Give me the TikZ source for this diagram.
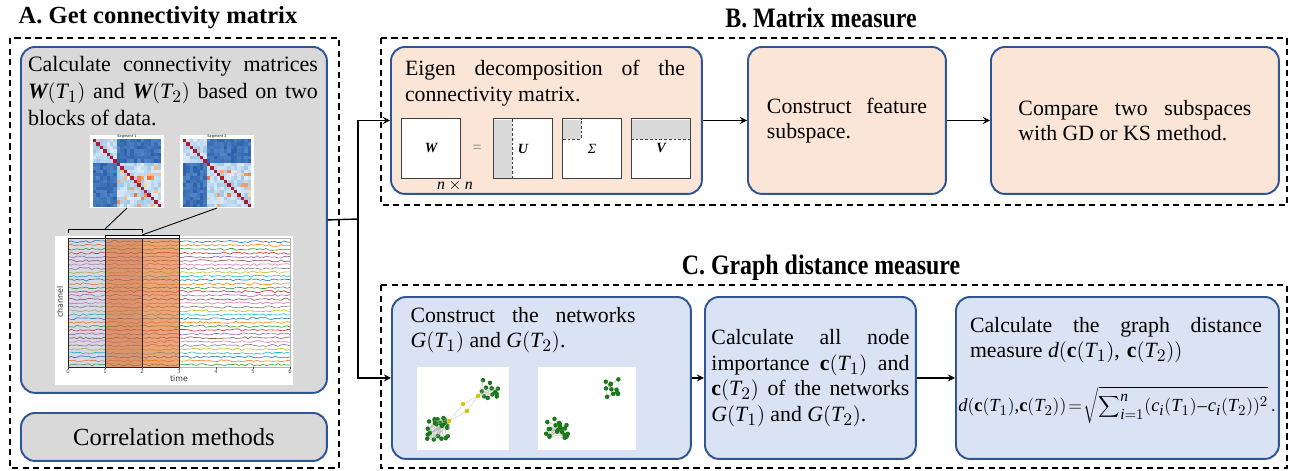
\documentclass[tikz,border=0pt]{standalone}
\usepackage{fontspec}
\setmainfont{Liberation Serif}
\setsansfont{DejaVu Sans}
\usepackage[italic]{mathastext}
\usepackage{bm}
\hyphenpenalty=10000
\exhyphenpenalty=10000

\definecolor{boxblue}{RGB}{47,85,151}
\definecolor{grayfill}{RGB}{217,217,217}
\definecolor{peach}{RGB}{251,229,214}
\definecolor{paleblue}{RGB}{218,227,243}
\definecolor{matgray}{RGB}{217,217,217}
\definecolor{hmred}{RGB}{178,24,43}
\definecolor{hmpale}{RGB}{222,235,247}
\definecolor{hmlight}{RGB}{160,200,230}
\definecolor{hmmid}{RGB}{80,135,200}
\definecolor{hmdark}{RGB}{45,95,170}
\definecolor{hmyellow}{RGB}{254,224,144}
\definecolor{hmorange}{RGB}{244,109,67}
\definecolor{winorange}{RGB}{220,105,35}
\definecolor{netgreen}{RGB}{25,120,25}
\definecolor{netyellow}{RGB}{215,195,0}
\definecolor{tab0}{HTML}{1F77B4}
\definecolor{tab1}{HTML}{FF7F0E}
\definecolor{tab2}{HTML}{2CA02C}
\definecolor{tab3}{HTML}{D62728}
\definecolor{tab4}{HTML}{9467BD}
\definecolor{tab5}{HTML}{8C564B}
\definecolor{tab6}{HTML}{E377C2}
\definecolor{tab7}{HTML}{7F7F7F}
\definecolor{tab8}{HTML}{BCBD22}
\definecolor{tab9}{HTML}{17BECF}

\tikzset{
  frame/.style={draw=black, line width=0.9pt, dash pattern=on 3.5pt off 2.5pt},
  stage/.style={draw=boxblue, line width=1.1pt, rounded corners=8pt, anchor=north west, inner sep=0pt, align=justify},
  blurb/.style={align=justify},
  title/.style={font=\fontsize{14}{16}\selectfont\bfseries},
  link/.style={line width=0.8pt},
  bracket/.style={line width=0.5pt},
  mat/.style={draw=black!75, line width=0.6pt, fill=white, minimum size=1.19cm, inner sep=0pt, font=\fontsize{8}{8}\selectfont},
  matdash/.style={draw=black!75, line width=0.5pt, dash pattern=on 1.5pt off 1.2pt},
  netedge/.style={draw=gray!55, line width=0.15pt},
  axislabel/.style={font=\fontsize{4.5}{5}\sffamily, text=black!80}
}

% correlation heat map: x, y, block cut, panel title
\newcommand{\corrmap}[4]{%
  \begin{scope}[shift={(#1,#2)}]
    \fill[white] (0,0) rectangle (74,73);
    \node[font=\fontsize{2}{2}\sffamily] at (37,2) {#4};
    \foreach \i in {0,...,19}{
      \foreach \j in {0,...,19}{
        \pgfmathtruncatemacro\shade{100*rnd}
        \pgfmathtruncatemacro\same{(\i<#3)==(\j<#3)}
        \pgfmathtruncatemacro\spot{(\i>=#3)&&(\j>=#3)&&(rnd<0.12)}
        \ifnum\i=\j \def\cellcol{hmred}%
        \else\ifnum\spot=1 \def\cellcol{hmyellow!\shade!hmorange}%
        \else\ifnum\same=1 \def\cellcol{hmpale!\shade!hmlight}%
        \else \def\cellcol{hmdark!\shade!hmmid}\fi\fi\fi
        \fill[\cellcol] ({3+\j*3.4},{4+\i*3.4}) rectangle +(3.4,3.4);
      }
    }
  \end{scope}}

% cluster of a network: prefix, x, y, spread, count
\newcommand{\netcluster}[5]{%
  \foreach \k in {1,...,#5}{\coordinate (#1\k) at ({#2+#4*rand},{#3+#4*rand});}
  \foreach \a in {1,...,#5}{
    \foreach \b in {1,...,#5}{
      \pgfmathtruncatemacro\link{(\a<\b)&&(rnd<0.3)}
      \ifnum\link=1 \draw[netedge] (#1\a) -- (#1\b);\fi
    }
  }
  \foreach \k in {1,...,#5}{\fill[netgreen] (#1\k) circle (0.045cm);}}

\begin{document}
\begin{tikzpicture}[x=0.02cm, y=-0.02cm, font=\fontsize{12.4}{14.5}\selectfont]
\pgfmathsetseed{11}
\useasboundingbox (0,0) rectangle (1294,470);

% dashed panels
\draw[frame] (10,38) rectangle (339,468);
\draw[frame] (381,38) rectangle (1287,205);
\draw[frame] (381,285) rectangle (1287,468);

\node[title] (titleA) at (158,18) {A. Get connectivity matrix};
\node[title, font=\fontsize{16}{18}\selectfont\bfseries] (titleB) at (821,18) {\scalebox{0.85}[1]{B. Matrix measure}};
\node[title, font=\fontsize{16}{18}\selectfont\bfseries] (titleC) at (821,268) {\scalebox{0.85}[1]{C. Graph distance measure}};

% panel A
\node[stage, fill=grayfill, minimum width=6.12cm, minimum height=6.92cm] (getW) at (20,46) {};
\node[blurb, text width=5.8cm, font=\fontsize{12.5}{15.2}\selectfont] (getWtext) at (173,91)
  {Calculate connectivity matrices $\bm{W}(T_1)$ and $\bm{W}(T_2)$ based on two blocks of data.};
\node[stage, fill=grayfill, minimum width=6.12cm, minimum height=0.96cm, font=\fontsize{14}{16}\selectfont] (corr) at (20,412) {Correlation methods};

\corrmap{90}{135}{7}{Segment 1}
\corrmap{180}{135}{7}{Segment 2}

% time series
\fill[white] (55,236) rectangle (293,385);
\foreach \n in {0,...,32}{
  \pgfmathtruncatemacro\k{mod(\n,10)}
  \draw[tab\k, line width=0.35pt] plot[domain=68:290, samples=75] (\x,{241.5+3.85*\n+1.1*rand});
}
\fill[gray!80!blue, opacity=0.25] (68,238) rectangle (142,367);
\fill[winorange, opacity=0.6] (105,238) rectangle (179,367);
\draw[gray!60, line width=0.3pt] (68,238) rectangle (290,367);
\draw[black!85, line width=0.5pt] (68,238) rectangle (142,367);
\draw[black!85, line width=0.5pt] (105,238) rectangle (179,367);
\foreach \t in {0,...,6}{
  \draw[black!70, line width=0.2pt] ({68+37*\t},367) -- ({68+37*\t},369);
  \node[font=\fontsize{3}{3}\sffamily, text=black!70] (tick\t) at ({68+37*\t},372) {\t};
}
\node[axislabel] (timelabel) at (179,379) {time};
\node[axislabel, rotate=90] (chlabel) at (60,302) {channel};

% windows and their matrices
\coordinate (win1) at (105,229);
\coordinate (win2) at (142,235);
\draw[bracket] (68,233) -- (68,229) -- (142,229) -- (142,233);
\draw[bracket] (105,238) -- (105,235) -- (179,235) -- (179,238);
\coordinate (hm1) at (127,208);
\coordinate (hm2) at (217,208);
\draw[bracket] (hm1) -- (win1);
\draw[bracket] (hm2) -- (win2);

% panel B
\node[stage, fill=peach, minimum width=6.22cm, minimum height=2.94cm] (eig) at (390,46) {};
\node[blurb, text width=5.6cm] (eigtext) at (545,83) {Eigen decomposition of the connectivity matrix.};
\node[mat] (matW) at (431,148.5) {$\bm{W}$};
\node[text=gray, font=\fontsize{9}{9}\selectfont] (eq) at (477,148.5) {=};
\node[mat] (matU) at (523,148.5) {$\bm{U}$};
\node[mat] (matS) at (592,148.5) {\textit{Σ}};
\node[mat] (matV) at (661,148.5) {$\bm{V}$};
\fill[matgray] (494,120) rectangle (512,177.5);
\draw[matdash] (512,119) -- (512,178);
\fill[matgray] (563,120) rectangle (581,139);
\draw[matdash] (563,139) -| (581,119);
\fill[matgray] (632,120) rectangle (690,139);
\draw[matdash] (631,139) -- (691,139);
\node[font=\fontsize{9}{9}\selectfont] (dims) at (455,186) {$n\times n$};

\node[stage, fill=peach, minimum width=3.96cm, minimum height=2.94cm, text width=3.2cm] (feature) at (747,46) {Construct feature subspace.};
\node[stage, fill=peach, minimum width=5.76cm, minimum height=2.94cm, text width=4.66cm] (compare) at (990,46) {Compare two subspaces with GD or KS method.};

% panel C
\node[stage, fill=paleblue, minimum width=5.98cm, minimum height=3.24cm] (network) at (391,296) {};
\node[blurb, text width=4.5cm] (networktext) at (523,330) {Construct the networks $G(T_1)$ and $G(T_2)$.};
\fill[white] (417,367) rectangle (509,450);
\fill[white] (538,367) rectangle (636,450);
\coordinate (y1) at (478,396);
\coordinate (y2) at (463,404);
\coordinate (y3) at (467,411);
\coordinate (y4) at (449,421);
\netcluster{p}{437}{429}{11}{24}
\netcluster{q}{490}{389}{9}{12}
\foreach \k in {1,...,6}{
  \draw[netedge] (y1) -- (q\k);
  \draw[netedge] (y4) -- (p\k);
}
\draw[netedge] (y1) -- (y2) -- (y4) -- (y3) -- (y1);
\foreach \k in {1,...,4}{\fill[netyellow] (y\k) circle (0.045cm);}
\netcluster{r}{557}{429}{11}{22}
\netcluster{s}{612}{388}{9}{12}

\node[stage, fill=paleblue, minimum width=4.22cm, minimum height=3.24cm, text width=3.96cm] (importance) at (704,296)
  {Calculate all node importance $\mathbf{c}(T_1)$ and $\mathbf{c}(T_2)$ of the networks $G(T_1)$ and $G(T_2)$.};
\node[stage, fill=paleblue, minimum width=6.46cm, minimum height=3.24cm] (distance) at (955,296) {};
\node[blurb, text width=5.84cm] (distancetext) at (1116,340) {Calculate the graph distance measure $d(\mathbf{c}(T_1),\,\mathbf{c}(T_2))$};
\node[inner sep=0pt] (formula) at (1117,405)
  {\resizebox{6.35cm}{!}{$\displaystyle\medmuskip=1mu\thickmuskip=2mu d(\mathbf{c}(T_1),\!\mathbf{c}(T_2))=\sqrt{\sum\nolimits_{i=1}^{n}(c_i(T_1)-c_i(T_2))^2}\,.$}};

% connectors
\coordinate (split) at (358,219);
\draw[link] (getW.east) -- (split);
\draw[link, -stealth] (split) |- (eig.west);
\draw[link, -stealth] (split) |- (network.west);
\draw[link, -stealth] (eig.east) -- (feature.west);
\draw[link, -stealth] (feature.east) -- (compare.west);
\draw[link, -stealth] (network.east) -- (importance.west);
\draw[link, -stealth] (importance.east) -- (distance.west);
\end{tikzpicture}
\end{document}
